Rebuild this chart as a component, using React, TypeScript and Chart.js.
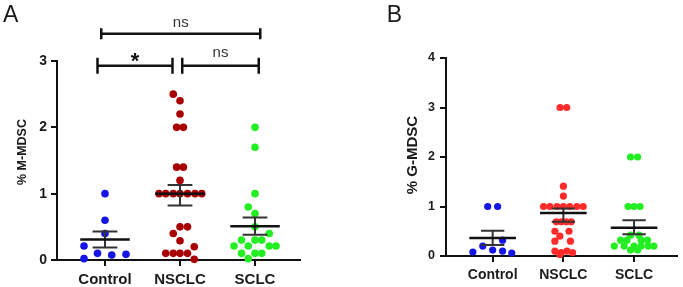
import { useEffect, useRef } from 'react';
import { Chart, registerables } from 'chart.js';

Chart.register(...registerables);

// ---------- data ----------
const categories = ['Control', 'NSCLC', 'SCLC'];

// Panel A: % M-MDSC (values) and beeswarm offsets (in category units)
const mControl = [1.0, 0.6, 0.4, 0.21, 0.02, 0.1, 0.075, 0.085];
const mControlOff = [0, 0, 0, -0.28, -0.28, -0.1, 0.09, 0.28];
const mNsclc = [2.5, 2.4, 2.2, 2.0, 2.0, 1.4, 1.4, 1.2, 1, 1, 1, 1, 1, 1, 1, 0.5, 0.5, 0.4, 0.29, 0.2, 0.1, 0.1, 0.1, 0.1, 0.01];
const mNsclcOff = [-0.09, 0, 0, -0.045, 0.045, -0.045, 0.045, 0, -0.28, -0.19, -0.09, 0, 0.1, 0.2, 0.29, 0, 0.1, -0.09, 0, 0.19, -0.19, -0.09, 0, 0.1, 0.19];
const mSclc = [2.0, 1.7, 1.0, 0.8, 0.7, 0.5, 0.4, 0.3, 0.3, 0.3, 0.21, 0.21, 0.21, 0.21, 0.1, 0.1, 0.1, 0.02];
const mSclcOff = [0, 0, 0, -0.09, 0, 0, 0.19, -0.18, 0, 0.09, -0.28, -0.09, 0.19, 0.28, -0.18, 0, 0.09, -0.09];
const mMean = [0.31, 1.0, 0.51];
const mSemHigh = [0.43, 1.13, 0.64];
const mSemLow = [0.19, 0.82, 0.38];
const mYTicks = [0, 1, 2, 3];

// Panel B: % G-MDSC
const gControl = [1.0, 1.0, 0.32, 0.2, 0.12, 0.1, 0.08, 0.06];
const gControlOff = [-0.07, 0.07, 0.14, -0.14, 0, 0.14, -0.28, 0.27];
const gNsclc = [3.0, 3.0, 1.41, 1.21, 1, 1, 1, 1, 1, 1, 1, 0.69, 0.69, 0.69, 0.69, 0.5, 0.5, 0.4, 0.3, 0.3, 0.1, 0.1, 0.07, 0.07, 0.03];
const gNsclcOff = [-0.047, 0.047, 0, 0, -0.28, -0.19, -0.09, 0, 0.09, 0.19, 0.28, -0.1, -0.03, 0.04, 0.11, -0.12, 0.08, -0.05, -0.12, 0.1, -0.12, 0.05, -0.03, 0.13, -0.05];
const gSclc = [2.0, 2.0, 1.0, 1.0, 1.0, 0.42, 0.42, 0.32, 0.32, 0.32, 0.32, 0.2, 0.2, 0.2, 0.2, 0.2, 0.2, 0.12, 0.12];
const gSclcOff = [-0.05, 0.05, -0.085, 0, 0.085, -0.05, 0.07, -0.19, -0.1, 0.1, 0.19, -0.28, -0.14, 0, 0.1, 0.2, 0.28, -0.05, 0.05];
const gMean = [0.365, 0.87, 0.57];
const gSemHigh = [0.51, 0.96, 0.72];
const gSemLow = [0.22, 0.69, 0.44];
const gYTicks = [0, 1, 2, 3, 4];

// Significance annotations for panel A: [from, to, label]
const sigFrom = [-0.1, 1.03, -0.05];
const sigTo = [0.9, 2.05, 2.07];
const sigLabel = ['*', 'ns', 'ns'];
const sigLevel = [2.93, 2.93, 3.41];

// ---------- styles ----------
const FAMILY = '"Liberation Sans", Arial, sans-serif';
const AXIS = '#111111';
const TEXT = '#1a1a1a';
const BLUE = '#1414e6';
const DARKRED = '#a80000';
const RED = '#ff2b2b';
const GREEN = '#22ee22';

type Group = { values: number[]; offsets: number[]; color: string };
type Panel = {
  letter: string;
  letterX: number;
  title: string;
  titleFont: number;
  titleX: number;
  titleY: number;
  groups: Group[];
  mean: number[];
  semHigh: number[];
  semLow: number[];
  yTicks: number[];
  xMin: number;
  xMax: number;
  padding: { left: number; right: number; top: number; bottom: number };
  xAxisHeight: number;
  yAxisWidth: number;
  xFont: number;
  yFont: number;
  xPad: number;
  yPad: number;
  radius: number;
  sig: boolean;
};

const panels: Panel[] = [
  {
    letter: 'A', letterX: 3, title: '% M-MDSC', titleFont: 12.5, titleX: 23, titleY: 152,
    groups: [
      { values: mControl, offsets: mControlOff, color: BLUE },
      { values: mNsclc, offsets: mNsclcOff, color: DARKRED },
      { values: mSclc, offsets: mSclcOff, color: GREEN },
    ],
    mean: mMean, semHigh: mSemHigh, semLow: mSemLow, yTicks: mYTicks,
    xMin: -0.64, xMax: 2.6,
    padding: { left: 0, right: 30, top: 61, bottom: 0 },
    xAxisHeight: 27, yAxisWidth: 57, xFont: 15, yFont: 14, xPad: 5, yPad: 4, radius: 3.8, sig: true,
  },
  {
    letter: 'B', letterX: 46.7, title: '% G-MDSC', titleFont: 15, titleX: 73, titleY: 155,
    groups: [
      { values: gControl, offsets: gControlOff, color: BLUE },
      { values: gNsclc, offsets: gNsclcOff, color: RED },
      { values: gSclc, offsets: gSclcOff, color: GREEN },
    ],
    mean: gMean, semHigh: gSemHigh, semLow: gSemLow, yTicks: gYTicks,
    xMin: -0.66, xMax: 2.607,
    padding: { left: 56, right: 6, top: 58, bottom: 0 },
    xAxisHeight: 31, yAxisWidth: 50, xFont: 14, yFont: 12.5, xPad: 5, yPad: 5, radius: 3.6, sig: false,
  },
];

function overlay(p: Panel) {
  return {
    id: 'overlay' + p.letter,
    afterDatasetsDraw(chart: any) {
      const { ctx } = chart;
      const x = chart.scales.x;
      const y = chart.scales.y;
      const unit = x.getPixelForValue(1) - x.getPixelForValue(0);
      ctx.save();
      // mean and SEM
      p.mean.forEach((m: number, i: number) => {
        const cx = x.getPixelForValue(i);
        const ym = y.getPixelForValue(m);
        const yh = y.getPixelForValue(p.semHigh[i]);
        const yl = y.getPixelForValue(p.semLow[i]);
        ctx.strokeStyle = '#333333';
        ctx.lineWidth = 2;
        ctx.beginPath();
        ctx.moveTo(cx, yh); ctx.lineTo(cx, yl);
        ctx.moveTo(cx - unit * 0.165, yh); ctx.lineTo(cx + unit * 0.165, yh);
        ctx.moveTo(cx - unit * 0.165, yl); ctx.lineTo(cx + unit * 0.165, yl);
        ctx.stroke();
        ctx.strokeStyle = AXIS;
        ctx.lineWidth = 2.5;
        ctx.beginPath();
        ctx.moveTo(cx - unit * 0.33, ym); ctx.lineTo(cx + unit * 0.33, ym);
        ctx.stroke();
      });
      // significance brackets
      if (p.sig) {
        sigLabel.forEach((lab, i) => {
          const x1 = x.getPixelForValue(sigFrom[i]);
          const x2 = x.getPixelForValue(sigTo[i]);
          const yy = y.getPixelForValue(sigLevel[i]);
          const cap = i === 2 ? 5.5 : 8;
          ctx.strokeStyle = AXIS;
          ctx.lineWidth = 2.5;
          ctx.beginPath();
          ctx.moveTo(x1, yy - cap); ctx.lineTo(x1, yy + cap);
          ctx.moveTo(x1, yy); ctx.lineTo(x2, yy);
          ctx.moveTo(x2, yy - cap); ctx.lineTo(x2, yy + cap);
          ctx.stroke();
          const mx = (x1 + x2) / 2;
          ctx.textAlign = 'center';
          ctx.textBaseline = 'alphabetic';
          if (lab === '*') {
            ctx.fillStyle = AXIS;
            ctx.font = `bold 22px ${FAMILY}`;
            ctx.fillText(lab, mx, yy + 2);
          } else {
            ctx.fillStyle = '#333333';
            ctx.font = `15px ${FAMILY}`;
            ctx.fillText(lab, mx, yy - (i === 2 ? 7.3 : 9));
          }
        });
      }
      // y-axis title
      ctx.save();
      ctx.translate(p.titleX, p.titleY);
      ctx.rotate(-Math.PI / 2);
      ctx.textAlign = 'center';
      ctx.textBaseline = 'middle';
      ctx.fillStyle = TEXT;
      ctx.font = `bold ${p.titleFont}px ${FAMILY}`;
      ctx.fillText(p.title, 0, 0);
      ctx.restore();
      // panel letter
      ctx.fillStyle = TEXT;
      ctx.textAlign = 'left';
      ctx.textBaseline = 'alphabetic';
      ctx.font = `23px ${FAMILY}`;
      ctx.fillText(p.letter, p.letterX, 21.5);
      ctx.restore();
    },
  };
}

function buildConfig(p: Panel): any {
  return {
    type: 'scatter',
    data: {
      datasets: p.groups.map((g, i) => ({
        label: categories[i],
        data: g.values.map((v, j) => ({ x: i + g.offsets[j], y: v })),
        backgroundColor: g.color,
        borderWidth: 0,
        pointRadius: p.radius,
        pointHoverRadius: p.radius,
        clip: false,
      })),
    },
    options: {
      animation: false,
      responsive: false,
      events: [],
      layout: { padding: p.padding },
      plugins: { legend: { display: false }, tooltip: { enabled: false } },
      scales: {
        x: {
          type: 'linear',
          min: p.xMin,
          max: p.xMax,
          afterFit: (s: any) => { s.height = p.xAxisHeight; },
          afterBuildTicks: (s: any) => { s.ticks = categories.map((_, i) => ({ value: i })); },
          ticks: {
            callback: (v: any) => categories[v] ?? '',
            font: { family: FAMILY, weight: 'bold', size: p.xFont },
            color: TEXT,
            padding: p.xPad,
            maxRotation: 0,
            autoSkip: false,
          },
          grid: { drawOnChartArea: false, drawTicks: true, tickLength: 6, lineWidth: 2, color: AXIS },
          border: { display: true, width: 2, color: AXIS },
        },
        y: {
          min: 0,
          max: p.yTicks[p.yTicks.length - 1],
          afterFit: (s: any) => { s.width = p.yAxisWidth; },
          afterBuildTicks: (s: any) => { s.ticks = p.yTicks.map((v) => ({ value: v })); },
          ticks: {
            font: { family: FAMILY, weight: 'bold', size: p.yFont },
            color: TEXT,
            padding: p.yPad,
          },
          grid: { drawOnChartArea: false, drawTicks: true, tickLength: 6, lineWidth: 2, color: AXIS },
          border: { display: true, width: 2, color: AXIS },
        },
      },
    },
    plugins: [overlay(p)],
  };
}

export default function App() {
  const refA = useRef<HTMLCanvasElement>(null);
  const refB = useRef<HTMLCanvasElement>(null);
  useEffect(() => {
    const a = new Chart(refA.current as HTMLCanvasElement, buildConfig(panels[0]));
    const b = new Chart(refB.current as HTMLCanvasElement, buildConfig(panels[1]));
    return () => {
      a.destroy();
      b.destroy();
    };
  }, []);
  return (
    <div style={{ position: 'absolute', left: 0, top: 0, width: 683, height: 287, background: '#ffffff' }}>
      <canvas ref={refA} width={330} height={287} style={{ position: 'absolute', left: 0, top: 0, width: 330, height: 287 }} />
      <canvas ref={refB} width={343} height={287} style={{ position: 'absolute', left: 340, top: 0, width: 343, height: 287 }} />
    </div>
  );
}
